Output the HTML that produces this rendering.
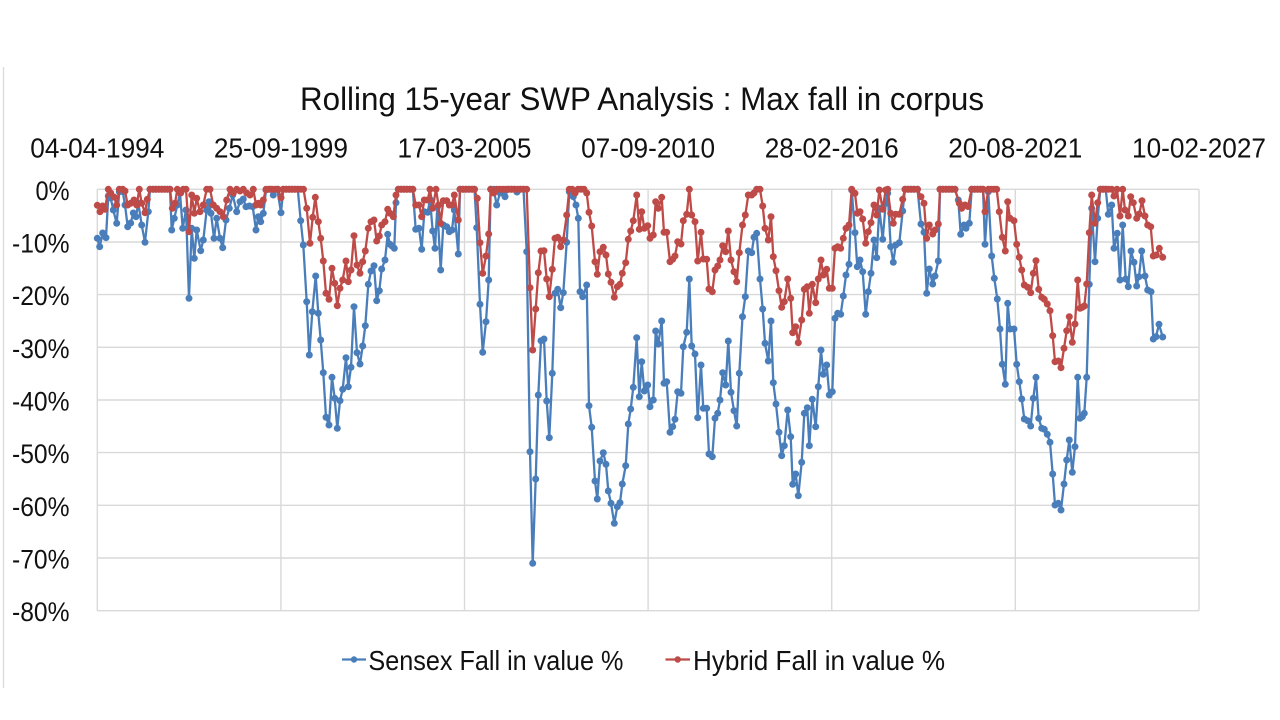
<!DOCTYPE html>
<html><head><meta charset="utf-8"><style>
html,body{margin:0;padding:0;background:#fff;}
svg{display:block;}
text{font-family:"Liberation Sans",Arial,sans-serif;fill:#111;}
</style></head><body>
<svg width="1280" height="720" viewBox="0 0 1280 720" xmlns="http://www.w3.org/2000/svg">
<defs>
<marker id="mb" markerWidth="10" markerHeight="10" refX="5" refY="5" markerUnits="userSpaceOnUse"><circle cx="5" cy="5" r="3.5" fill="#4A7EBB"/></marker>
<marker id="mr" markerWidth="10" markerHeight="10" refX="5" refY="5" markerUnits="userSpaceOnUse"><circle cx="5" cy="5" r="3.5" fill="#BE4B48"/></marker>
</defs>
<rect width="1280" height="720" fill="#fff"/>
<line x1="3.5" y1="67" x2="3.5" y2="688" stroke="#d9d9d9" stroke-width="1.3"/>
<g stroke="#d9d9d9" stroke-width="1.4">
<line x1="97.3" y1="189.3" x2="1199" y2="189.3"/>
<line x1="97.3" y1="242" x2="1199" y2="242"/>
<line x1="97.3" y1="294.6" x2="1199" y2="294.6"/>
<line x1="97.3" y1="347.3" x2="1199" y2="347.3"/>
<line x1="97.3" y1="400" x2="1199" y2="400"/>
<line x1="97.3" y1="452.6" x2="1199" y2="452.6"/>
<line x1="97.3" y1="505.3" x2="1199" y2="505.3"/>
<line x1="97.3" y1="558" x2="1199" y2="558"/>
<line x1="97.3" y1="610.7" x2="1199" y2="610.7"/>
<line x1="97.3" y1="189.3" x2="97.3" y2="610.7"/>
<line x1="280.9" y1="189.3" x2="280.9" y2="610.7"/>
<line x1="464.5" y1="189.3" x2="464.5" y2="610.7"/>
<line x1="648.1" y1="189.3" x2="648.1" y2="610.7"/>
<line x1="831.7" y1="189.3" x2="831.7" y2="610.7"/>
<line x1="1015.3" y1="189.3" x2="1015.3" y2="610.7"/>
<line x1="1199" y1="189.3" x2="1199" y2="610.7"/>
</g>

<text x="642" y="110" font-size="32" text-anchor="middle" textLength="684" lengthAdjust="spacingAndGlyphs">Rolling 15-year SWP Analysis : Max fall in corpus</text>

<g font-size="28" text-anchor="middle">
<text x="97.3" y="157.3" textLength="134" lengthAdjust="spacingAndGlyphs">04-04-1994</text>
<text x="280.9" y="157.3" textLength="134" lengthAdjust="spacingAndGlyphs">25-09-1999</text>
<text x="464.5" y="157.3" textLength="134" lengthAdjust="spacingAndGlyphs">17-03-2005</text>
<text x="648.1" y="157.3" textLength="134" lengthAdjust="spacingAndGlyphs">07-09-2010</text>
<text x="831.7" y="157.3" textLength="134" lengthAdjust="spacingAndGlyphs">28-02-2016</text>
<text x="1015.3" y="157.3" textLength="134" lengthAdjust="spacingAndGlyphs">20-08-2021</text>
<text x="1199" y="157.3" textLength="134" lengthAdjust="spacingAndGlyphs">10-02-2027</text>
</g>

<g font-size="27" text-anchor="end">
<text x="69.5" y="199.8" textLength="34" lengthAdjust="spacingAndGlyphs">0%</text>
<text x="69.5" y="252.5" textLength="57.5" lengthAdjust="spacingAndGlyphs">-10%</text>
<text x="69.5" y="305.1" textLength="57.5" lengthAdjust="spacingAndGlyphs">-20%</text>
<text x="69.5" y="357.8" textLength="57.5" lengthAdjust="spacingAndGlyphs">-30%</text>
<text x="69.5" y="410.5" textLength="57.5" lengthAdjust="spacingAndGlyphs">-40%</text>
<text x="69.5" y="463.1" textLength="57.5" lengthAdjust="spacingAndGlyphs">-50%</text>
<text x="69.5" y="515.8" textLength="57.5" lengthAdjust="spacingAndGlyphs">-60%</text>
<text x="69.5" y="568.5" textLength="57.5" lengthAdjust="spacingAndGlyphs">-70%</text>
<text x="69.5" y="621.2" textLength="57.5" lengthAdjust="spacingAndGlyphs">-80%</text>
</g>

<polyline fill="none" stroke="#4A7EBB" stroke-width="2.3" stroke-linejoin="round" marker-start="url(#mb)" marker-mid="url(#mb)" marker-end="url(#mb)" points="
97.3,238.3 99.7,246.7 102.7,233 106,237.7 108.3,196 110.7,198 113.3,210 116.7,223.3 119.3,191.7 122.7,191.7 125,205 127.7,226.7 130.7,223 133.3,213 136,216.7 138.3,203 141.7,225 145,242.3 148.3,211.7 150,189.3 152.9,189.3 155.8,189.3 158.7,189.3 161.6,189.3 164.5,189.3 167.4,189.3 170,189.3
171.7,230 174.3,218.3 177.3,205 180,193 182.7,228.3 186,210 189,298.3 191.7,228.3 194.3,258.3 196.7,230 200.7,250.7 203.3,240 206.7,210 209,201.7 211,213.3 214,238.3 216.7,218.3 220,238.3 222.7,247.7 226,220 229.3,208.3 232.7,195 236.7,211.7 240,201.7 243.3,199 246,206.7 249.3,206 252.7,206.7 256,230 258.3,216.7 260.7,221.7 263.3,213.3 266,190 270,189.3 273.3,195 277.3,189.3 281,212.7 283.3,189.3 286.2,189.3 289.1,189.3 292,189.3 294.9,189.3 297.8,189.3
300.7,220.7 303.3,245 306.7,301.7 309.3,355 312.3,311.7 315.7,276 318.3,313.3 320.7,340 323.3,372.7 326,417.3 329,425 332,377.3 334.7,398.3 337.3,428.3 340,400.7 342.7,389.3 346,357.7 348.3,386.7 351,367.3 354,306.7 357,352.7 360,364 362.7,346 365.3,325.7 368.3,284.3 371,271 374,265.7 376.7,300.7 379.3,290.7 381.7,269 385,260 387.7,234.3 390,244.3 392,246 394.3,248.3 396,202.7 398.3,189.3 401.2,189.3 404.1,189.3 407,189.3 409.9,189.3 412.8,189.3
415.7,229.3 419,228.3 421.7,249.3 424.3,211.7 427.7,212.3 430,199.3 432.7,231 435,248.3 437.3,207.3 440.7,270 443.3,225 446.7,226.7 449.3,231.7 452,230 454.3,210 458.3,254 460,189.3 463,189.3 466,189.3 469,189.3 472,189.3 474.5,189.3
476.7,227.7 480,304.3 482.7,352.3 486,321.7 488.7,280 490.7,189.3 493.7,189.3 496.7,205 500,193 502.5,191 505,196.7 508,189.3 511,189.3 514,189.3 517,192 520,189.3 523.5,189.3
526.7,251.7 530,451.7 532.7,563.3 535.7,479 538.3,395 541,340.7 544,339 546.7,401 549.3,437.7 552.3,373.3 555,293.3 557.7,289.3 560.7,307.7 563.3,292.7 566.7,242.3 569.3,191.7 571.5,191.7 573.3,196.7 576,205 578.3,218.3 580,291.7 582.7,296.7 586.7,285 589,405.7 591.7,427.3 595,481 597.3,499 600,461 603.3,452.7 606,464.3 608.3,491 611,503.3 614.3,523.3 617.3,506.7 620,502.7 622.3,484 625.7,465.7 628.3,424 630.7,409 633.3,387.3 636.7,337.7 639.3,396.7 641.7,361.7 644.3,391 647.7,385 650,406.7 653.3,400 655.7,331 658.3,344 661.7,321 664,383.3 666.7,381.7 670,432.3 672.7,426.7 675,419.3 677.7,391.7 681,393.3 683.3,346.7 686.7,332.3 689.3,279 691.7,346 695,354 697.7,417.7 701,365 703.3,408.3 706.7,408.3 709,454 712.3,456.7 715,418.3 717.7,413.3 720,400 722.7,372.7 725.7,385 728.3,341 731,392.3 734,410.7 736.7,426 739.3,373.3 742.5,316.7 745.3,296.7 748.3,251 751.7,252.7 754,237.3 756.7,233.3 760,279 762.7,309 765,343.3 768.3,361 771,321 773.3,382.7 776,404 779,432.3 781.7,455.7 784.3,445.7 787.7,410 790.7,436.7 792.7,484.3 795.7,474 798.3,495.7 801.7,462.3 804.3,413.3 807.3,407.7 809.3,445.7 812.3,399.3 815.7,426.7 818.3,386.7 821,350 823.3,374.3 826.7,365 829.3,395 832.3,391.7 835,318.3 837.7,313.3 840.7,314.3 843.3,296 846,275 849,264.3 851.7,190 855,232.7 857.3,266.7 860,260 862.7,271.7 865.7,314.3 868.3,291.7 871,273.3 874,240 876.7,257.7 879.3,208.3 882.7,239.3 885.7,203.3 887.7,193.3 890.7,246.7 893.3,262.3 895.7,245 899.3,242.7 902.7,211 905,189.3 908,189.3 911,189.3 914,189.3 917.5,189.3
921,224 924,232.3 926.7,293.3 929.3,269 932.7,284 935,276 938.3,261 940,189.3 943,189.3 946,189.3 949,189.3 952,189.3 955,189.3 958.3,200 960.7,234.3 964,225 966,228.3 969.3,223.3 971.7,189.3 974.6,189.3 977.5,189.3 980.4,189.3 983,189.3
985,244.3 988.3,191.7 991.7,256 994.3,278.3 997.3,299 1000,329 1002.3,364.3 1005.3,384.3 1007.7,303.3 1010,329 1014,329 1016.7,364.3 1019.3,381.7 1021.7,399 1024.3,419 1027.7,420.7 1030.7,426 1033.3,398.3 1036,377.3 1038.7,418.3 1041.7,428.3 1044.3,429.3 1047.3,434.3 1050,442.3 1052.7,474 1055,505 1058.3,503.3 1061,510 1064,484 1066.7,460 1069.3,440 1072.3,472.3 1075,446.7 1077.7,377.3 1080,418.3 1082.3,416.7 1084.3,413.3 1086.7,377.3 1089.3,284.3 1091.7,208.3 1095,261.7 1097.7,218.3 1100.3,189.3 1103,189.3 1105.7,189.3
1108.3,214.3 1111.7,205 1114,248.3 1117.3,233.3 1120,280 1122.7,225 1125.7,279 1128.3,286.7 1131,251 1134,262.3 1136.7,286 1139,276.7 1141.7,251 1145,276 1147.7,290 1151,291.7 1153.3,339 1156,336.7 1159,324.3 1162.7,337"/>

<polyline fill="none" stroke="#BE4B48" stroke-width="2.3" stroke-linejoin="round" marker-start="url(#mr)" marker-mid="url(#mr)" marker-end="url(#mr)" points="
97.3,205.3 100,211.7 102.7,206 105,209.3 108.3,189.3 110.7,193 114,197 116.7,205 119.3,189.3 122.7,189.3 125,191 127.7,205 130.7,203.3 134,200 136.7,205 139.3,189.3 141.7,203.3 145,212.7 147.3,199.3 150,189.3 152.9,189.3 155.8,189.3 158.7,189.3 161.6,189.3 164.5,189.3 167.4,189.3 170,189.3
172.3,208.3 175,203.3 177.3,189.3 180.7,193 183.3,189.3 186,189.3 189,231.7 191.7,195 194.3,213.3 196.7,198.3 200,211.7 203.3,205 206.7,189.3 210,189.3 213.3,205 216.7,208.3 220,211.7 223.3,216.7 226.7,200 230,189.3 233.3,193 236.7,189.3 240,191 243.3,189.3 246.7,193 250,195 253.3,189.3 256,205 258.3,203.3 260.7,205 263.3,200 266,189.3 269,189.3 272,189.3 275,189.3 278,189.3 281,197.7 283.3,189.3 286.2,189.3 289.1,189.3 292,189.3 294.9,189.3 297.8,189.3 300.7,189.3 303.5,189.3
306.7,208.3 310,243.3 312.7,217.3 315.3,197.3 318.3,221.7 320.7,238.3 323.3,261 326,293.3 329,299.3 332,268.3 334.7,283.3 337.3,305.7 340,288.3 342.7,280 346,261 348.3,281.7 351,270 354,235.7 357,265 360,273.3 362.7,261.7 365.3,251 368.3,228.3 371,221.7 374,220 376.7,241 379.3,236 381.7,225 385,221.7 387.7,209.3 390,213.3 393.3,216.7 396,195 398.3,189.3 401.2,189.3 404.1,189.3 407,189.3 409.9,189.3 412.8,189.3
415.7,205 419,205 421.7,216.7 424.3,200 427.7,200 430,189.3 432.7,208.3 436,189.3 438.5,205 440.7,223.3 443.3,200.7 446.7,200.7 449.3,205 452,205 454.3,195 458.3,220 460,189.3 463,189.3 466,189.3 469,189.3 472,189.3 474.5,189.3
477.3,198.3 480,242.7 482.7,273.3 486,256 488.7,234 490.7,189.3 493.7,193 496.7,189.3 499.7,189.3 502.7,189.3 505.7,189.3 508.7,189.3 511.7,189.3 514.7,189.3 517.7,189.3 520.7,189.3 523.7,189.3 526.7,189.3
530,287.7 532.7,350 535.7,309 538.3,272.7 541,251 544,250.7 546.7,279 549.3,296.7 552.3,269.3 555,238.3 557.7,237.3 560.7,246.7 563.3,240 566.7,215 569.3,189.3 572.2,189.3 575.1,193 578,189.3 581,189.3 584,189.3 586.7,193
589,212.3 591.7,226 595,261.7 597.3,274.3 600,251.7 603.3,247.3 606,255 608.3,274 611,282.3 614.3,297.3 617.3,286.7 620,284.3 622.3,273.3 625.7,262.7 628.3,239.3 630.7,231 633.3,220.7 636.7,195 639.3,229.3 641.7,211.7 644.3,228.3 647.7,225.7 650,238.3 653.3,235 655.7,201.7 658.3,208.3 661.7,197.3 664,232.3 666.7,232.3 670,261.7 672.7,259.3 675,256 677.7,241.7 681,244 683.3,220.7 686.7,214.3 689.3,189.3 691.7,215 695,221.7 697.7,261 701,232.3 703.3,259 706.7,259.3 709,289 712.3,291.7 715,270 717.7,266 720,260 722.7,245.7 725.7,251.7 728.3,231 731,260 734,271.7 736.7,281.7 739.3,252.7 742.5,225 745.3,215 748.3,195 751.7,195 754,193 756.7,189.3 760,189.3
762.7,206 765,228.3 768.3,240 771,216.7 773.3,256.7 776,270.7 779,290.7 781.7,307.3 784.3,301.7 787.7,279 790.7,298.3 792.7,332.7 795.7,326.7 798.3,342.7 801.7,320 804.3,289.3 807.3,286.7 809.3,313.3 812.3,284.3 815.7,302.7 818.3,279 821,260 823.3,275 826.7,269.3 829.3,288.3 832.3,288.3 835,248.3 837.7,246.7 840.7,248.3 843.3,238.3 846,228.3 849,225 851.7,189.3 855,193.3 857.3,213.3 860,211.7 862.7,219 865.7,243.3 868.3,231.7 871,222.7 874,205 876.7,215 879.3,190 882.7,209.3 885.7,190 887.7,189.3 890.7,213.3 893.3,223.3 895.7,214.3 899.3,214.3 902.7,199.3 905,189.3 908,189.3 911,189.3 914,189.3 917.5,189.3
921,196.7 924,203.3 926.7,238.3 929.3,225 932.7,234 935,230 938.3,224 940,189.3 943,189.3 946,189.3 949,189.3 952,189.3 955,189.3 959.3,203.3 961.7,208.3 965,205 968,206.5 971.7,189.3 974.6,189.3 977.5,189.3 980.4,189.3 983,189.3 985,211.7 988.3,189.3 991.2,189.3 994,189.3 996.7,189.3
999.3,211.7 1002.3,237.3 1005.3,251 1007.7,201.7 1010,218.3 1014,220.7 1016.7,244.3 1019.3,257.3 1021.7,270 1024.3,285 1027.7,287.3 1030.7,292.7 1033.3,273.3 1036,260.7 1038.7,289.3 1041.7,297.3 1044.3,299.3 1047.3,304 1050,310.7 1052.7,335.7 1055,361.7 1058.3,361 1061,367.7 1064,348.3 1066.7,330.7 1069.3,316.7 1072.3,342.3 1075,324 1077.7,280 1080,308.3 1082.3,307.3 1084.3,306 1086.7,284 1089.3,232.7 1091.7,195 1095,223.3 1097.7,202.7 1100.3,189.3 1103,189.3 1105.7,189.3 1108.3,189.3 1111.7,189.3 1114,196 1117,189.3
1120,216 1122.7,189.3 1125,210 1128.3,216 1130.7,196.7 1133.3,202.7 1136.7,218.3 1139.3,214 1142,200.7 1145,216 1147.7,225 1150.7,226.7 1153.3,256 1156.3,255 1159.3,248.3 1162.7,257.3"/>

<line x1="342" y1="659.5" x2="366" y2="659.5" stroke="#4A7EBB" stroke-width="2.2"/>
<circle cx="354" cy="659.5" r="3.2" fill="#4A7EBB"/>
<text x="368.4" y="670" font-size="28" textLength="255" lengthAdjust="spacingAndGlyphs">Sensex Fall in value %</text>
<line x1="665.5" y1="659.5" x2="690" y2="659.5" stroke="#BE4B48" stroke-width="2.2"/>
<circle cx="677.7" cy="659.5" r="3.2" fill="#BE4B48"/>
<text x="693" y="670" font-size="28" textLength="252" lengthAdjust="spacingAndGlyphs">Hybrid Fall in value %</text>
</svg>
</body></html>
